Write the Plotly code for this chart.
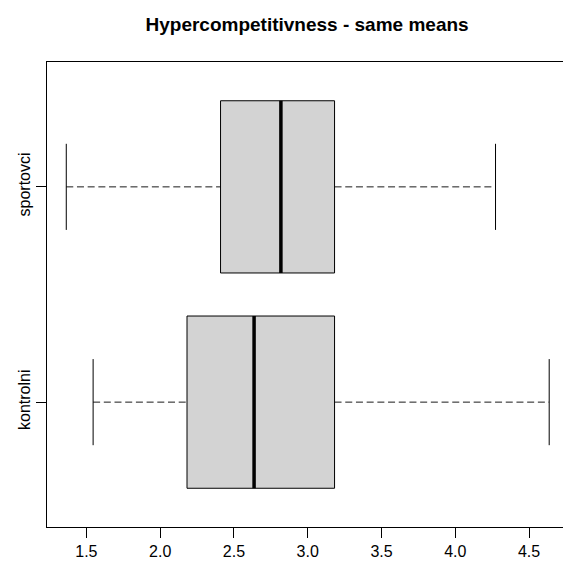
import plotly.graph_objects as go

# Five-number summaries per group (whisker low, Q1, median, Q3, whisker high)
groups = ["kontrolni", "sportovci"]
positions = [1, 2]
whisker_low = [1.5455, 1.3636]
q1 = [2.1818, 2.4091]
median = [2.6364, 2.8182]
q3 = [3.1818, 3.1818]
whisker_high = [4.6364, 4.2727]

x_ticks = [1.5, 2.0, 2.5, 3.0, 3.5, 4.0, 4.5]
x_tick_labels = ["1.5", "2.0", "2.5", "3.0", "3.5", "4.0", "4.5"]

title_text = "Hypercompetitivness - same means"

BOX_HALF = 0.4
STAPLE_HALF = 0.2
FONT = "Liberation Sans, Arial, sans-serif"
DASH = "7px,3.7px"

fig = go.Figure()

for i, g in enumerate(groups):
    p = positions[i]
    # dashed whiskers
    fig.add_trace(go.Scatter(
        x=[whisker_low[i], q1[i]], y=[p, p], mode="lines",
        line=dict(color="#1a1a1a", width=1, dash=DASH),
        showlegend=False, hoverinfo="skip"))
    fig.add_trace(go.Scatter(
        x=[q3[i], whisker_high[i]], y=[p, p], mode="lines",
        line=dict(color="#1a1a1a", width=1, dash=DASH),
        showlegend=False, hoverinfo="skip"))
    # staples
    for w in (whisker_low[i], whisker_high[i]):
        fig.add_trace(go.Scatter(
            x=[w, w], y=[p - STAPLE_HALF, p + STAPLE_HALF], mode="lines",
            line=dict(color="#000000", width=1),
            showlegend=False, hoverinfo="skip"))
    # box
    fig.add_trace(go.Scatter(
        x=[q1[i], q3[i], q3[i], q1[i], q1[i]],
        y=[p - BOX_HALF, p - BOX_HALF, p + BOX_HALF, p + BOX_HALF, p - BOX_HALF],
        mode="lines", fill="toself", fillcolor="#D3D3D3",
        line=dict(color="#000000", width=1),
        showlegend=False, hoverinfo="skip", name=g))
    # median
    fig.add_trace(go.Scatter(
        x=[median[i], median[i]], y=[p - BOX_HALF, p + BOX_HALF], mode="lines",
        line=dict(color="#000000", width=3.5),
        showlegend=False, hoverinfo="skip"))

fig.update_layout(
    width=563, height=563,
    margin=dict(l=47, r=0, t=62, b=36),
    paper_bgcolor="white", plot_bgcolor="white",
    font=dict(family=FONT, size=16, color="#000000"),
    title=dict(text="<b>" + title_text + "</b>", x=0.504, xref="paper",
               xanchor="center", y=1 - 24 / 563, yref="container",
               yanchor="middle", font=dict(family=FONT, size=19, color="#000000")),
    xaxis=dict(range=[1.233, 4.73], tickmode="array", tickvals=x_ticks,
               ticktext=x_tick_labels, ticks="outside", ticklen=10,
               tickcolor="#000000", tickwidth=1, showline=True,
               linecolor="#000000", linewidth=1, mirror=True,
               showgrid=False, zeroline=False, fixedrange=True),
    yaxis=dict(range=[0.42, 2.58], tickmode="array", tickvals=positions,
               ticktext=groups, tickangle=-90, ticks="outside", ticklen=10,
               tickcolor="#000000", tickwidth=1, showline=True,
               linecolor="#000000", linewidth=1, mirror=False,
               showgrid=False, zeroline=False, fixedrange=True),
)

fig.write_html("out.html", config={"displayModeBar": False})
